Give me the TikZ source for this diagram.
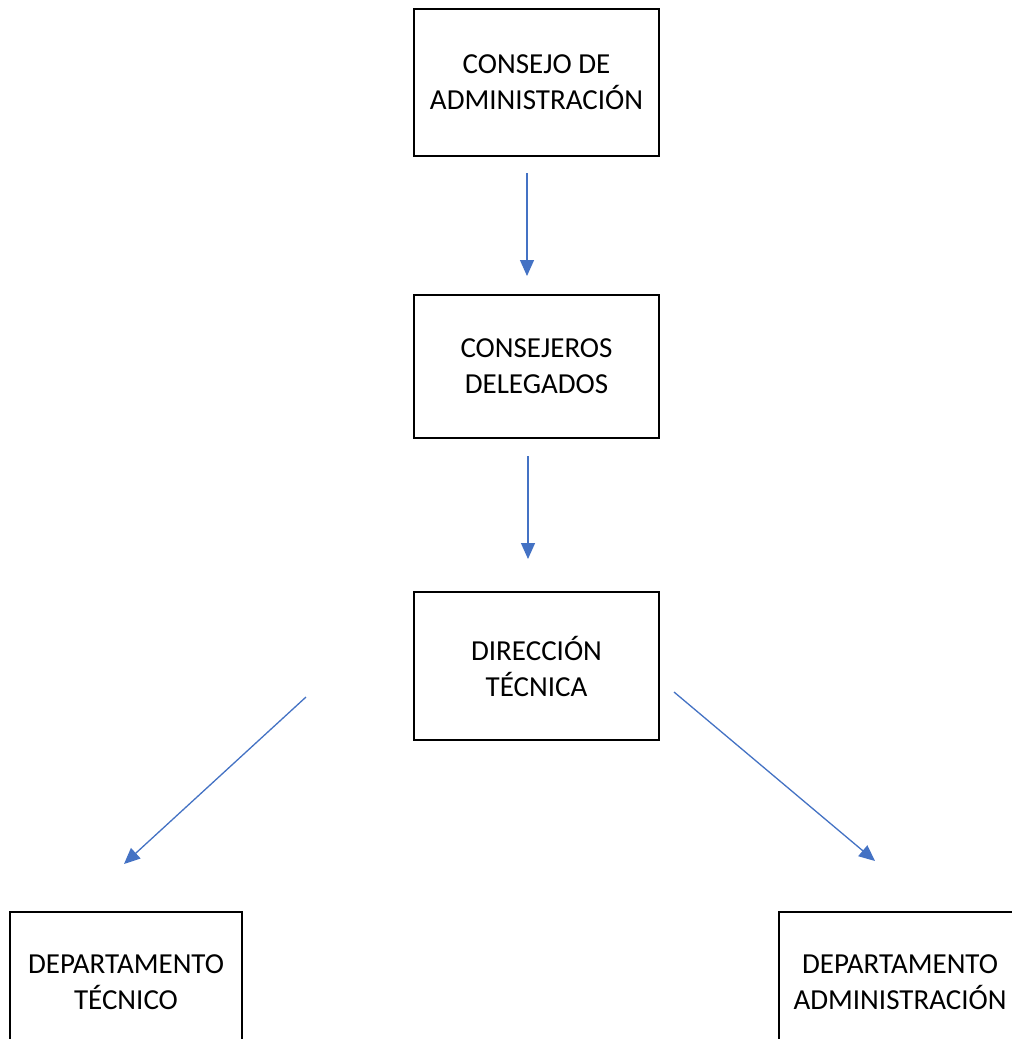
\documentclass[tikz,border=0pt]{standalone}
\usepackage{fontspec}
\setmainfont{Carlito}
\usetikzlibrary{arrows.meta}
\definecolor{officeblue}{RGB}{68,114,196}
\begin{document}
\begin{tikzpicture}[x=1pt,y=-1pt,
  txt/.style={align=center,font=\fontsize{29}{36}\selectfont},
  box/.style={draw=black,line width=1.8pt,fill=white,inner sep=0pt,txt},
  conn/.style={draw=officeblue,line width=1.3pt,-{Triangle[length=16pt,width=14pt]}}]
\fill[white] (0,0) rectangle (1012,1039);
\useasboundingbox (0,0) rectangle (1012,1039);
\node[box,minimum width=245pt,minimum height=147pt] (b1) at (536.5,82.5) {CONSEJO DE\\ADMINISTRACIÓN};
\node[box,minimum width=245pt,minimum height=143pt] (b2) at (536.5,366.5) {CONSEJEROS\\DELEGADOS};
\node[box,minimum width=245pt,minimum height=148pt] (b3) at (536.5,666) {DIRECCIÓN\\TÉCNICA};
\node[box,minimum width=232pt,minimum height=140pt] (b4) at (126,982) {DEPARTAMENTO\\TÉCNICO};
\node[box,minimum width=300pt,minimum height=140pt,
  label={[txt,xshift=-29pt]center:DEPARTAMENTO\\ADMINISTRACIÓN}] (b5) at (929,982) {};
\coordinate (a1s) at (527,173);
\coordinate (a1e) at (527,276);
\coordinate (a2s) at (528,456);
\coordinate (a2e) at (528,559);
\coordinate (a3s) at (306,697);
\coordinate (a3e) at (124,864);
\coordinate (a4s) at (674,692);
\coordinate (a4e) at (875,861);
\draw[conn] (a1s) -- (a1e);
\draw[conn] (a2s) -- (a2e);
\draw[conn] (a3s) -- (a3e);
\draw[conn] (a4s) -- (a4e);
\end{tikzpicture}
\end{document}
